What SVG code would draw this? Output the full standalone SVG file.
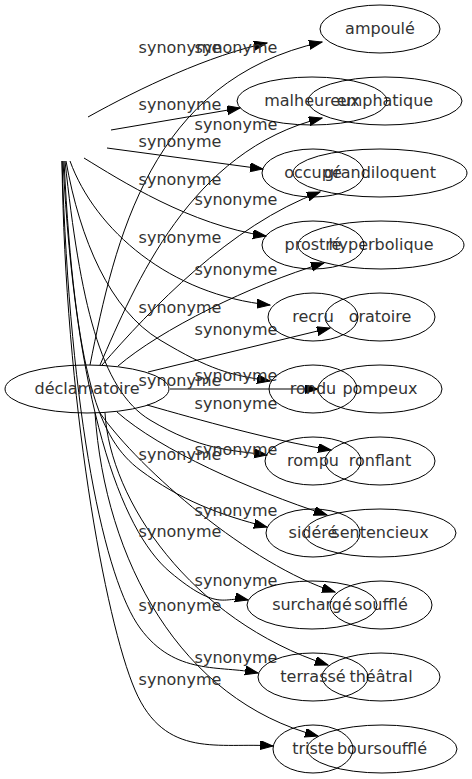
<svg xmlns="http://www.w3.org/2000/svg" width="472" height="779" viewBox="0 0 472 779">
<style>
.n ellipse{fill:none;stroke:#000;stroke-width:1}
text{font-family:"DejaVu Sans",Verdana,sans-serif;font-size:16px;fill:#333;text-anchor:middle}
.e path{fill:none;stroke:#000;stroke-width:1;marker-end:url(#ah)}
</style>
<defs>
<marker id="ah" markerUnits="userSpaceOnUse" markerWidth="14" markerHeight="10" refX="13" refY="4.5" orient="auto">
<path d="M0,0 L13,4.5 L0,9 z" fill="#000" stroke="#000" stroke-width="1"/>
</marker>
</defs>
<rect width="472" height="779" fill="#fff"/>
<g id="edges" class="e">
<path d="M90,365 C115,240 150,80 322,42"/>
<path d="M100,365 C135,285 190,150 322,118"/>
<path d="M102,365 C150,310 230,225 320,192"/>
<path d="M118,366 C160,330 250,285 324,263"/>
<path d="M148,372 L330,328"/>
<path d="M170,389 L318,389"/>
<path d="M147,405 C200,420 270,440 331,450"/>
<path d="M117,412 C160,450 250,490 327,515"/>
<path d="M100,413 C140,470 250,565 335,592"/>
<path d="M105,413 C110,500 190,620 328,665"/>
<path d="M95,413 C105,560 180,700 318,736"/>
<path d="M88,117 C140,88 210,55 267,43"/>
<path d="M111,130 L240,108"/>
<path d="M107,148 L263,169"/>
<path d="M84,158 C120,180 190,225 266,236"/>
<path d="M70,161 C95,230 170,295 270,305"/>
<path d="M66,161 C80,240 110,310 160,340 S230,375 270,381"/>
<path d="M65,161 C80,300 100,390 150,420 S230,450 267,455"/>
<path d="M64,161 C75,380 100,440 140,470 S220,515 267,527"/>
<path d="M63,161 C75,400 120,530 170,572 S225,595 248,600"/>
<path d="M62,161 C70,420 105,580 140,628 S220,665 258,673"/>
<path d="M62,161 C65,400 105,620 135,690 S220,742 273,746"/>
</g>
<g id="edge-labels">
<text x="180" y="53">synonyme</text>
<text x="180" y="110">synonyme</text>
<text x="180" y="147">synonyme</text>
<text x="180" y="185">synonyme</text>
<text x="180" y="243">synonyme</text>
<text x="180" y="313">synonyme</text>
<text x="180" y="386">synonyme</text>
<text x="180" y="460">synonyme</text>
<text x="180" y="537">synonyme</text>
<text x="180" y="611">synonyme</text>
<text x="180" y="685">synonyme</text>
<text x="236" y="53">synonyme</text>
<text x="236" y="130">synonyme</text>
<text x="236" y="205">synonyme</text>
<text x="236" y="275">synonyme</text>
<text x="236" y="335">synonyme</text>
<text x="236" y="381">synonyme</text>
<text x="236" y="409">synonyme</text>
<text x="236" y="455">synonyme</text>
<text x="236" y="516">synonyme</text>
<text x="236" y="586">synonyme</text>
<text x="236" y="663">synonyme</text>
</g>
<g id="declamatoire" class="n"><ellipse cx="87" cy="389" rx="82" ry="24"/><text x="87" y="394">déclamatoire</text></g>
<g id="ampoule" class="n"><ellipse cx="380" cy="29" rx="60" ry="24"/><text x="380" y="34">ampoulé</text></g>
<g id="emphatique" class="n"><ellipse cx="385" cy="101" rx="77" ry="24"/><text x="385" y="106">emphatique</text></g>
<g id="grandiloquent" class="n"><ellipse cx="380" cy="173" rx="87" ry="24"/><text x="380" y="178">grandiloquent</text></g>
<g id="hyperbolique" class="n"><ellipse cx="381" cy="245" rx="83" ry="24"/><text x="381" y="250">hyperbolique</text></g>
<g id="oratoire" class="n"><ellipse cx="380" cy="317" rx="55" ry="24"/><text x="380" y="322">oratoire</text></g>
<g id="pompeux" class="n"><ellipse cx="380" cy="389" rx="62" ry="24"/><text x="380" y="394">pompeux</text></g>
<g id="ronflant" class="n"><ellipse cx="380" cy="461" rx="55" ry="24"/><text x="380" y="466">ronflant</text></g>
<g id="sentencieux" class="n"><ellipse cx="380" cy="533" rx="76" ry="24"/><text x="380" y="538">sentencieux</text></g>
<g id="souffle" class="n"><ellipse cx="381" cy="605" rx="51" ry="24"/><text x="381" y="610">soufflé</text></g>
<g id="theatral" class="n"><ellipse cx="381" cy="677" rx="59" ry="24"/><text x="381" y="682">théâtral</text></g>
<g id="boursouffle" class="n"><ellipse cx="382" cy="749" rx="75" ry="24"/><text x="382" y="754">boursoufflé</text></g>
<g id="malheureux" class="n"><ellipse cx="312" cy="101" rx="75" ry="24"/><text x="312" y="106">malheureux</text></g>
<g id="occupe" class="n"><ellipse cx="313" cy="173" rx="51" ry="24"/><text x="313" y="178">occupé</text></g>
<g id="prostre" class="n"><ellipse cx="313" cy="245" rx="51" ry="24"/><text x="313" y="250">prostré</text></g>
<g id="recru" class="n"><ellipse cx="313" cy="317" rx="45" ry="24"/><text x="313" y="322">recru</text></g>
<g id="rondu" class="n"><ellipse cx="313" cy="389" rx="44" ry="24"/><text x="313" y="394">rondu</text></g>
<g id="rompu" class="n"><ellipse cx="313" cy="461" rx="48" ry="24"/><text x="313" y="466">rompu</text></g>
<g id="sidere" class="n"><ellipse cx="313" cy="533" rx="47" ry="24"/><text x="313" y="538">sidéré</text></g>
<g id="surcharge" class="n"><ellipse cx="312" cy="605" rx="65" ry="24"/><text x="312" y="610">surchargé</text></g>
<g id="terrasse" class="n"><ellipse cx="313" cy="677" rx="55" ry="24"/><text x="313" y="682">terrassé</text></g>
<g id="triste" class="n"><ellipse cx="313" cy="749" rx="40" ry="24"/><text x="313" y="754">triste</text></g>
</svg>
